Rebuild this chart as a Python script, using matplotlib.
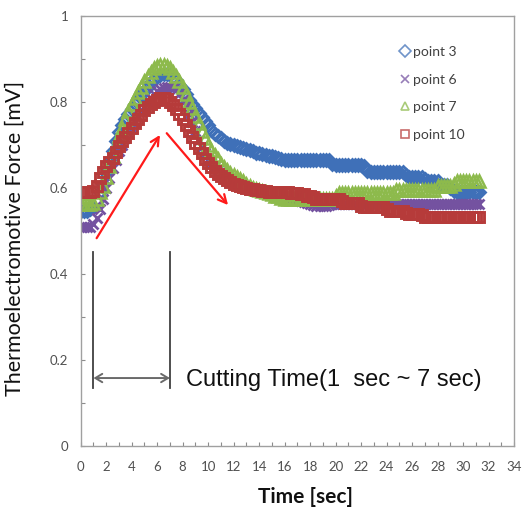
import numpy as np
import matplotlib
matplotlib.use("Agg")
import matplotlib.pyplot as plt
from matplotlib.ticker import MultipleLocator

# ---------------- data ----------------
time_sec = np.arange(126) * 0.25   # sampling every 0.25 s, 0 .. 31.25 s

point3 = [
    .547, .547, .547, .550,  .555, .570, .590, .610,  .635, .660, .685, .710,
    .730, .745, .760, .772,  .783, .795, .805, .815,  .825, .835, .845, .852,
    .858, .862, .864, .864,  .862, .858, .850, .840,  .830, .818, .805, .795,
    .785, .775, .765, .755,  .745, .735, .725, .720,  .715, .710, .705, .703,
    .700, .698, .695, .692,  .690, .688, .685, .682,  .680, .678, .677, .675,
    .675, .672, .670, .668,  .665, .665, .665, .665,  .665, .665, .665, .665,
    .665, .665, .665, .665,  .665, .665, .665, .655,  .653, .653, .653, .653,
    .653, .653, .653, .653,  .653, .650, .640, .637,  .637, .637, .637, .637,
    .637, .637, .637, .637,  .637, .637, .630, .625,  .625, .625, .625, .625,
    .620, .615, .615, .615,  .615, .607, .607, .607,  .600, .592, .590, .590,
    .590, .590, .590, .590,  .590, .590,
]

point6 = [
    .510, .510, .510, .510,  .515, .530, .550, .575,  .600, .622, .645, .665,
    .685, .700, .715, .728,  .740, .752, .765, .778,  .790, .800, .810, .818,
    .825, .830, .833, .835,  .835, .833, .828, .818,  .805, .790, .772, .752,
    .732, .712, .695, .680,  .668, .658, .650, .642,  .636, .630, .625, .620,
    .615, .610, .606, .603,  .600, .598, .596, .594,  .592, .590, .588, .586,
    .585, .584, .583, .582,  .580, .578, .576, .574,  .572, .570, .568, .565,
    .562, .560, .558, .558,  .558, .558, .560, .562,  .562, .562, .562, .562,
    .562, .562, .562, .562,  .562, .562, .562, .562,  .562, .562, .562, .562,
    .562, .562, .562, .562,  .562, .562, .562, .562,  .562, .562, .562, .562,
    .562, .562, .562, .562,  .562, .562, .562, .562,  .562, .562, .562, .562,
    .562, .562, .562, .562,  .562, .562,
]

point7 = [
    .563, .563, .563, .563,  .565, .575, .590, .605,  .625, .650, .675, .700,
    .720, .740, .760, .778,  .795, .810, .822, .835,  .848, .860, .870, .878,
    .884, .886, .886, .884,  .878, .870, .860, .848,  .835, .818, .800, .785,
    .768, .750, .732, .715,  .700, .688, .676, .666,  .656, .648, .641, .635,
    .630, .625, .620, .615,  .610, .605, .600, .598,  .595, .592, .590, .587,
    .585, .582, .580, .577,  .575, .575, .575, .575,  .575, .575, .575, .575,
    .575, .575, .575, .575,  .575, .575, .575, .575,  .580, .588, .588, .588,
    .588, .588, .588, .588,  .588, .588, .588, .588,  .588, .588, .588, .588,
    .588, .588, .588, .595,  .595, .595, .595, .595,  .595, .595, .595, .595,
    .595, .595, .595, .595,  .605, .605, .605, .605,  .605, .610, .617, .617,
    .617, .617, .617, .617,  .617, .617,
]

point10 = [
    .590, .590, .590, .590,  .592, .605, .622, .638,  .650, .660, .670, .683,
    .697, .708, .718, .728,  .740, .750, .760, .770,  .780, .788, .795, .800,
    .805, .808, .808, .806,  .800, .792, .783, .772,  .760, .746, .732, .718,
    .705, .692, .680, .668,  .658, .648, .640, .633,  .627, .622, .618, .614,
    .610, .607, .604, .602,  .600, .598, .597, .596,  .595, .593, .592, .591,
    .590, .590, .590, .590,  .590, .590, .588, .588,  .588, .585, .585, .582,
    .580, .578, .575, .575,  .575, .575, .575, .575,  .575, .575, .570, .565,
    .565, .565, .565, .565,  .558, .556, .556, .556,  .556, .556, .556, .556,
    .550, .547, .547, .547,  .547, .547, .542, .540,  .540, .540, .540, .536,
    .532, .532, .532, .532,  .532, .532, .532, .532,  .532, .532, .532, .532,
    .532, .532, .532, .532,  .532, .532,
]

series_labels = ["point 3", "point 6", "point 7", "point 10"]
x_ticks = list(range(0, 35, 2))
y_ticks = [0, 0.2, 0.4, 0.6, 0.8, 1]
y_tick_labels = ["0", "0.2", "0.4", "0.6", "0.8", "1"]

annotation_text = "Cutting Time(1  sec ~ 7 sec)"
cut_start, cut_end = 1, 7

# ---------------- drawing ----------------
fig = plt.figure(figsize=(5.24, 5.08), dpi=100)
ax = fig.add_axes([0.154, 0.122, 0.827, 0.847])

styles = [
    dict(marker="D", color="#3f70b8", ms=6.3, mew=2.0, mfc="none"),
    dict(marker="x", color="#7452a0", ms=7, mew=2.0),
    dict(marker="^", color="#8dba4c", ms=8, mew=1.8, mfc="none"),
    dict(marker="s", color="#b63b3a", ms=7.3, mew=2.1, mfc="none"),
]
for vals, lab, st in zip([point3, point6, point7, point10], series_labels, styles):
    ax.plot(time_sec, vals, linestyle="none", label=lab, **st)

ax.set_xlim(0, 34)
ax.set_ylim(0, 1)
ax.set_xticks(x_ticks)
ax.xaxis.set_minor_locator(MultipleLocator(1))
ax.set_yticks(y_ticks)
ax.set_yticklabels(y_tick_labels)
ax.yaxis.set_minor_locator(MultipleLocator(0.1))

tick_font = "Lato"
ax.tick_params(which="both", direction="in", color="#8c8c8c", length=3, width=0.8)
ax.tick_params(axis="x", which="major", pad=11, labelsize=9.5, labelcolor="#505050")
ax.tick_params(axis="y", which="major", pad=9, labelsize=9.5, labelcolor="#505050")
for lbl in ax.get_xticklabels() + ax.get_yticklabels():
    lbl.set_fontfamily(tick_font)

for sp in ax.spines.values():
    sp.set_color("#a0a0a0")
    sp.set_linewidth(1.0)

ax.set_ylabel("Thermoelectromotive Force [mV]", fontsize=15.5, family="Lato", color="#111111")
ax.yaxis.set_label_coords(-0.1285, 0.483)
ax.set_xlabel("Time [sec]", fontsize=15, family="Lato", fontweight="bold", color="#111111")
ax.xaxis.set_label_coords(0.518, -0.119)
ax.xaxis.label.set_va("center")

# cutting time bracket
ax.plot([cut_start, cut_start], [0.135, 0.452], color="#404040", lw=1.3)
ax.plot([cut_end, cut_end], [0.135, 0.452], color="#404040", lw=1.3)
ax.annotate("", xy=(cut_end, 0.158), xytext=(cut_start, 0.158),
            arrowprops=dict(arrowstyle="<->,head_length=0.5,head_width=0.3",
                            color="#6a6a6a", lw=1.4, shrinkA=0, shrinkB=0))
ax.text(8.3, 0.153, annotation_text, fontsize=17, family="Liberation Sans",
        va="center", ha="left", color="#111111")

# red trend arrows
ax.annotate("", xy=(6.22, 0.723), xytext=(1.25, 0.483),
            arrowprops=dict(arrowstyle="->,head_length=0.6,head_width=0.3",
                            color="#ff1a1a", lw=1.6, shrinkA=0, shrinkB=0))
ax.annotate("", xy=(11.56, 0.56), xytext=(6.75, 0.727),
            arrowprops=dict(arrowstyle="->,head_length=0.6,head_width=0.3",
                            color="#ff1a1a", lw=1.6, shrinkA=0, shrinkB=0))

leg = ax.legend(loc="upper left", bbox_to_anchor=(0.725, 0.943), frameon=False,
                numpoints=1, handlelength=0.6, handletextpad=0.3, labelspacing=1.13,
                prop=dict(family="Lato", size=10), borderaxespad=0)
for h in leg.legend_handles:
    h.set_markersize(6)
    h.set_markeredgewidth(1.2)
    h.set_alpha(0.75)
for t in leg.get_texts():
    t.set_color("#404040")

fig.savefig("out.png", dpi=100)
